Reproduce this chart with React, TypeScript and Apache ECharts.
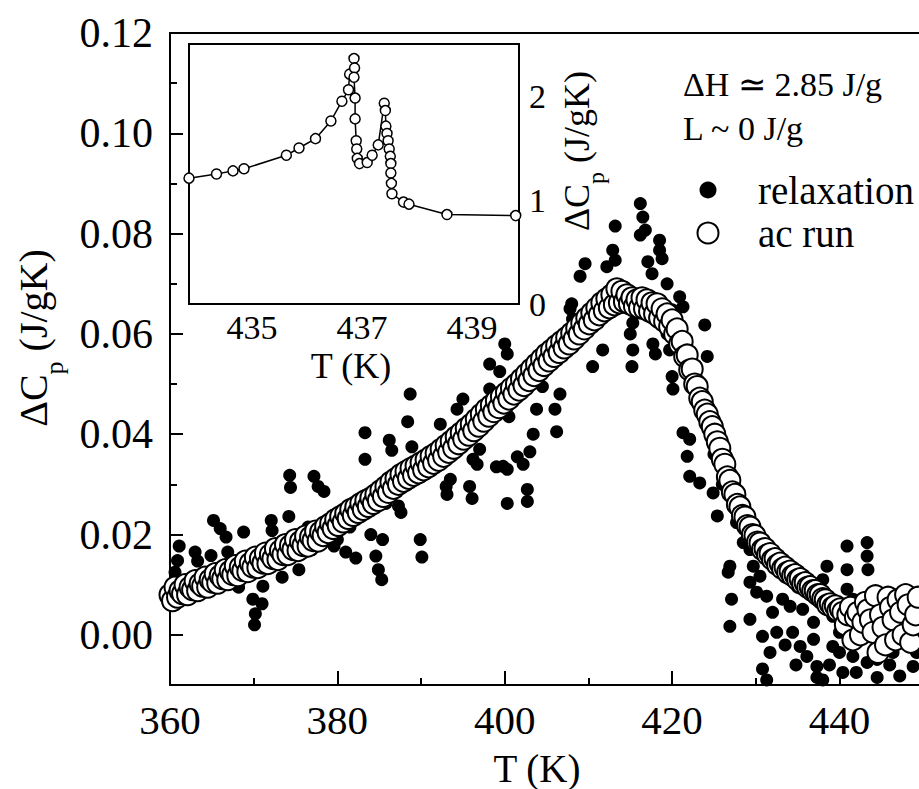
import React, { useEffect, useRef } from "react";
import * as echarts from "echarts";

const FF = "Liberation Serif";

const xLabels = [360, 380, 400, 420, 440];
const xMinor = [370, 390, 410, 430];
const yLabels = [0, 0.02, 0.04, 0.06, 0.08, 0.1, 0.12];
const yMinor = [0.01, 0.03, 0.05, 0.07, 0.09, 0.11];
const insetXLabels = [435, 437, 439];
const insetXTicks = [434.333, 435, 435.667, 436.333, 437, 437.667, 438.333, 439, 439.667];
const insetYLabels = [0, 1, 2];
const insetYTicks = [0.5, 1, 1.5, 2];

const relaxation: [number, number][] = [
  [360.3, 0.0085], [360.6, 0.0125], [360.9, 0.0148], [361.1, 0.0177], [362.2, 0.0105], [363.0, 0.0165], [363.3, 0.0147],
  [364.2, 0.0118], [364.9, 0.0158], [365.2, 0.0228], [366.0, 0.0212], [366.3, 0.0128], [366.7, 0.0195], [366.9, 0.0165],
  [367.8, 0.0142], [368.2, 0.0095], [368.8, 0.0205], [369.5, 0.015], [369.9, 0.0071], [370.1, 0.002], [370.2, 0.0042],
  [371.0, 0.0062], [371.1, 0.0097], [371.7, 0.015], [372.1, 0.0228], [372.2, 0.0208], [372.8, 0.017], [373.4, 0.0115],
  [374.2, 0.0236], [374.3, 0.0318], [374.4, 0.0294], [375.4, 0.013], [376.1, 0.0165], [376.5, 0.0215], [377.0, 0.017],
  [377.2, 0.0316], [377.7, 0.0296], [378.4, 0.0286], [378.6, 0.0225], [379.0, 0.0205], [379.6, 0.0177], [380.0, 0.019],
  [380.5, 0.024], [381.0, 0.0165], [381.5, 0.0215], [382.0, 0.0262], [382.2, 0.0153], [383.0, 0.024], [383.3, 0.0403],
  [383.3, 0.035], [383.5, 0.027], [384.0, 0.02], [384.6, 0.0157], [384.9, 0.013], [385.0, 0.0282], [385.3, 0.011],
  [385.4, 0.019], [385.8, 0.0262], [386.2, 0.0388], [386.5, 0.0368], [386.5, 0.03], [387.3, 0.0257], [387.6, 0.0244],
  [388.0, 0.0318], [388.4, 0.0425], [388.7, 0.048], [388.9, 0.0375], [389.5, 0.0336], [389.9, 0.019], [390.1, 0.0155],
  [391.0, 0.0345], [392.3, 0.042], [393.0, 0.0296],
  [393.1, 0.028], [393.5, 0.031], [394.3, 0.045], [394.5, 0.0375], [395.0, 0.047], [395.8, 0.0296], [396.0, 0.0395],
  [396.1, 0.0272], [396.2, 0.035], [396.7, 0.034], [397.0, 0.037], [397.5, 0.042], [398.2, 0.049], [398.2, 0.054],
  [399.0, 0.0335], [399.0, 0.0445], [399.4, 0.0525], [399.8, 0.0336], [400.0, 0.058], [400.3, 0.056], [400.3, 0.033],
  [400.3, 0.0262], [400.5, 0.0435], [401.0, 0.0475], [401.5, 0.0355], [402.2, 0.034], [402.5, 0.05], [402.7, 0.029],
  [402.7, 0.0266], [403.0, 0.0365], [403.4, 0.04], [403.8, 0.045], [404.0, 0.0525], [404.5, 0.0495], [405.5, 0.055],
  [406.0, 0.045], [406.2, 0.0405], [406.6, 0.048], [407.0, 0.0575], [407.8, 0.065], [408.0, 0.066], [408.1, 0.063],
  [408.5, 0.06], [409.0, 0.0715], [409.6, 0.074], [410.0, 0.0625], [410.5, 0.0535], [411.5, 0.0645], [411.7, 0.0568],
  [412.2, 0.0734], [412.9, 0.0767], [413.2, 0.0747], [413.2, 0.0815], [413.5, 0.066], [414.5, 0.0665], [415.0, 0.06],
  [415.2, 0.0535], [415.3, 0.0622], [415.3, 0.0568], [416.0, 0.066], [416.2, 0.0797], [416.2, 0.086], [416.5, 0.0833],
  [416.8, 0.0807], [417.1, 0.0744], [417.5, 0.065], [417.6, 0.072], [417.7, 0.058], [418.0, 0.056], [418.5, 0.0787],
  [418.5, 0.0767], [418.8, 0.075], [419.0, 0.063], [419.4, 0.07], [419.4, 0.06], [419.7, 0.0568], [420.0, 0.0648],
  [420.0, 0.0515], [420.1, 0.049], [420.5, 0.06], [420.9, 0.0674], [421.3, 0.0654], [421.3, 0.0403], [421.8, 0.0356],
  [422.0, 0.056], [422.1, 0.039], [422.1, 0.0316], [423.0, 0.05], [423.3, 0.0303], [423.9, 0.0618], [424.0, 0.046],
  [424.2, 0.0555], [424.9, 0.0283], [425.0, 0.036], [425.4, 0.0237],
  [426.0, 0.03], [426.7, 0.0125], [426.9, 0.0137], [426.9, 0.0017], [427.1, 0.0071], [427.5, 0.026], [427.7, 0.0224],
  [428.5, 0.0184], [428.8, 0.022], [429.3, 0.017], [429.3, 0.0105], [429.3, 0.0031], [429.7, 0.0137], [430.1, 0.0085],
  [430.5, 0.0117], [430.5, 0.017], [430.8, -0.0003], [430.8, -0.0068], [431.3, 0.0077], [431.3, -0.009], [431.7, -0.0035],
  [432.0, 0.0045], [432.0, 0.014], [432.5, 0.0005], [433.2, 0.0071], [433.5, 0.0115], [433.5, -0.002], [434.1, 0.0057],
  [434.4, 0.0005], [434.8, -0.006], [435.0, 0.0095], [435.3, -0.0023], [435.6, 0.0051], [436.1, -0.0043], [436.5, 0.008],
  [436.9, 0.0025], [436.9, -0.0009], [437.3, -0.0063], [437.3, -0.0085], [438.0, 0.011], [438.0, 0.006], [438.0, -0.009],
  [438.5, 0.0137], [438.8, -0.006], [439.2, 0.0037], [439.2, -0.0023], [439.5, 0.005], [440.0, 0.0005], [440.0, -0.0035],
  [440.4, -0.0075], [440.9, 0.0177], [440.9, 0.013], [440.9, 0.0091], [441.0, 0.003], [441.6, 0.0071], [441.6, -0.0043],
  [442.0, -0.0075], [442.4, 0.0005], [442.5, 0.002], [443.3, 0.0184], [443.3, 0.0157], [443.4, 0.013], [443.3, -0.0055],
  [444.0, 0.0071], [444.0, 0.001], [444.5, -0.0049], [444.5, -0.0085], [445.0, 0.004], [445.5, 0.0], [446.0, -0.006],
  [446.4, -0.0035], [447.0, -0.0005], [447.2, -0.0082], [447.8, 0.003], [448.5, 0.001], [448.8, -0.0063], [449.2, -0.0035],
];

// ac run, first pass
const acRunA: [number, number][] = [
  [360.0, 0.008], [360.6, 0.0095], [361.2, 0.0088], [361.8, 0.01], [362.4, 0.0095], [363.0, 0.0108], [363.6, 0.0102],
  [364.2, 0.0115], [364.8, 0.011], [365.4, 0.0122], [366.0, 0.0118], [366.6, 0.013], [367.2, 0.0127], [367.8, 0.0138],
  [368.4, 0.0135], [369.0, 0.0147], [369.6, 0.0143], [370.2, 0.0155], [370.8, 0.0152], [371.4, 0.0163], [372.0, 0.016],
  [372.6, 0.0172], [373.2, 0.0168], [373.8, 0.018], [374.4, 0.0178], [375.0, 0.019], [375.6, 0.0186], [376.2, 0.0197],
  [376.8, 0.0195], [377.4, 0.0207], [378.0, 0.0205], [378.6, 0.0216], [379.2, 0.0222], [379.8, 0.023], [380.4, 0.0236],
  [381.0, 0.0242], [381.6, 0.025], [382.2, 0.0255], [382.8, 0.0262], [383.4, 0.0268], [384.0, 0.0273], [384.6, 0.028],
  [385.2, 0.0288], [385.8, 0.0296], [386.4, 0.0305], [387.0, 0.0312], [387.6, 0.032], [388.2, 0.0326], [388.8, 0.0332],
  [389.4, 0.0337], [390.0, 0.0343], [390.6, 0.0349], [391.2, 0.0356], [391.8, 0.0362], [392.4, 0.037], [393.0, 0.0378],
  [393.6, 0.0386], [394.2, 0.0395], [394.8, 0.0403], [395.4, 0.0412], [396.0, 0.042], [396.6, 0.043], [397.2, 0.044],
  [397.8, 0.045], [398.4, 0.0458], [399.0, 0.0467], [399.6, 0.0475], [400.2, 0.0483], [400.8, 0.0492], [401.4, 0.05],
  [402.0, 0.051], [402.6, 0.052], [403.2, 0.053], [403.8, 0.054], [404.4, 0.055], [405.0, 0.056], [405.6, 0.0568],
  [406.2, 0.0577], [406.8, 0.0585], [407.4, 0.0593], [408.0, 0.0602], [408.6, 0.0612], [409.2, 0.0622], [409.8, 0.0632],
  [410.4, 0.0642], [411.0, 0.0652], [411.6, 0.0662], [412.2, 0.067], [412.8, 0.0678], [413.4, 0.069], [414.0, 0.0685],
  [414.6, 0.0678], [415.2, 0.0672], [415.8, 0.0668], [416.4, 0.0672], [417.0, 0.0668], [417.6, 0.0662], [418.2, 0.066],
  [418.8, 0.065], [419.4, 0.064], [420.0, 0.0628], [420.6, 0.061], [421.2, 0.0585], [421.8, 0.0558], [422.4, 0.053],
  [423.0, 0.0495], [423.6, 0.0465], [424.2, 0.044], [424.8, 0.0415], [425.4, 0.0385], [426.0, 0.035], [426.6, 0.0315],
  [427.2, 0.0285], [427.8, 0.026], [428.4, 0.0238], [429.0, 0.0218], [429.6, 0.02], [430.2, 0.0185], [430.8, 0.017],
  [431.4, 0.016], [432.0, 0.015], [432.6, 0.014], [433.2, 0.0132], [433.8, 0.0125], [434.4, 0.0118], [435.0, 0.011],
  [435.6, 0.0102], [436.2, 0.0095], [436.8, 0.0088], [437.4, 0.008], [438.0, 0.0072], [438.6, 0.006], [439.2, 0.0055],
  [439.8, 0.0048], [440.4, 0.0045], [441.0, 0.004], [441.6, -0.001], [442.2, 0.0045], [442.8, 0.0025], [443.4, 0.005],
  [444.0, 0.0005], [444.6, -0.0035], [445.2, 0.0015], [445.8, 0.0075], [446.4, 0.003], [447.0, 0.007], [447.6, 0.0],
  [448.2, 0.006], [448.8, 0.002], [449.4, 0.0075],
];

// ac run, second pass (slightly offset)
const acRunB: [number, number][] = [
  [360.3, 0.0068], [360.9, 0.0075], [361.5, 0.0082], [362.1, 0.008], [362.7, 0.009], [363.3, 0.0088], [363.9, 0.0097],
  [364.5, 0.0095], [365.1, 0.0105], [365.7, 0.0103], [366.3, 0.0112], [366.9, 0.011], [367.5, 0.012], [368.1, 0.0118],
  [368.7, 0.0128], [369.3, 0.0126], [369.9, 0.0135], [370.5, 0.0134], [371.1, 0.0143], [371.7, 0.0142], [372.3, 0.0152],
  [372.9, 0.015], [373.5, 0.016], [374.1, 0.016], [374.7, 0.017], [375.3, 0.0168], [375.9, 0.0178], [376.5, 0.0177],
  [377.1, 0.0188], [377.7, 0.0187], [378.3, 0.0198], [378.9, 0.0204], [379.5, 0.0212], [380.1, 0.0218], [380.7, 0.0225],
  [381.3, 0.0232], [381.9, 0.0238], [382.5, 0.0244], [383.1, 0.025], [383.7, 0.0256], [384.3, 0.0262], [384.9, 0.0268],
  [385.5, 0.0276], [386.1, 0.0284], [386.7, 0.0292], [387.3, 0.03], [387.9, 0.0306], [388.5, 0.0312], [389.1, 0.0318],
  [389.7, 0.0323], [390.3, 0.0329], [390.9, 0.0335], [391.5, 0.0342], [392.1, 0.0348], [392.7, 0.0356], [393.3, 0.0364],
  [393.9, 0.0372], [394.5, 0.0381], [395.1, 0.039], [395.7, 0.0398], [396.3, 0.0407], [396.9, 0.0416], [397.5, 0.0426],
  [398.1, 0.0436], [398.7, 0.0445], [399.3, 0.0453], [399.9, 0.0462], [400.5, 0.047], [401.1, 0.048], [401.7, 0.0488],
  [402.3, 0.0497], [402.9, 0.0507], [403.5, 0.0517], [404.1, 0.0527], [404.7, 0.0537], [405.3, 0.0546], [405.9, 0.0555],
  [406.5, 0.0563], [407.1, 0.0572], [407.7, 0.058], [408.3, 0.059], [408.9, 0.06], [409.5, 0.061], [410.1, 0.062],
  [410.7, 0.0628], [411.3, 0.0638], [411.9, 0.0646], [412.5, 0.0652], [413.1, 0.0658], [413.7, 0.0662], [414.3, 0.0664],
  [414.9, 0.066], [415.5, 0.0655], [416.1, 0.0652], [416.7, 0.065], [417.3, 0.0645], [417.9, 0.064], [418.5, 0.0632],
  [419.1, 0.0625], [419.7, 0.0615], [420.3, 0.06], [420.9, 0.058], [421.5, 0.0555], [422.1, 0.0528], [422.7, 0.05],
  [423.3, 0.0472], [423.9, 0.0448], [424.5, 0.0425], [425.1, 0.04], [425.7, 0.0372], [426.3, 0.034], [426.9, 0.0308],
  [427.5, 0.028], [428.1, 0.0255], [428.7, 0.0235], [429.3, 0.0215], [429.9, 0.0198], [430.5, 0.0183], [431.1, 0.0172],
  [431.7, 0.0162], [432.3, 0.0152], [432.9, 0.0143], [433.5, 0.0135], [434.1, 0.0127], [434.7, 0.012], [435.3, 0.0112],
  [435.9, 0.0104], [436.5, 0.0096], [437.1, 0.0088], [437.7, 0.008], [438.3, 0.007], [438.9, 0.0062], [439.5, 0.0058],
  [440.1, 0.0052], [440.7, 0.002], [441.3, 0.0055], [441.9, 0.0035], [442.5, 0.0], [443.1, 0.0065], [443.7, 0.003],
  [444.3, 0.0078], [444.9, 0.004], [445.5, -0.002], [446.1, 0.0055], [446.7, -0.001], [447.3, 0.0045], [447.9, 0.008],
  [448.5, -0.0015], [449.1, 0.004],
];

const insetRun: [number, number][] = [
  [434.0, 1.21], [434.5, 1.25], [434.8, 1.28], [435.0, 1.3], [435.77, 1.43], [436.0, 1.5], [436.3, 1.59], [436.58, 1.76],
  [436.78, 1.95], [436.9, 2.06], [436.92, 2.21], [437.0, 2.36], [437.01, 2.27], [437.0, 2.18], [437.02, 1.98],
  [437.02, 1.78], [437.04, 1.57], [437.05, 1.49], [437.06, 1.4], [437.1, 1.35], [437.24, 1.36], [437.33, 1.43],
  [437.44, 1.53], [437.55, 1.93], [437.57, 1.86], [437.58, 1.71], [437.6, 1.64], [437.62, 1.57], [437.64, 1.49],
  [437.66, 1.42], [437.67, 1.35], [437.67, 1.26], [437.68, 1.16], [437.69, 1.06], [437.9, 0.98], [438.0, 0.96],
  [438.69, 0.86], [439.94, 0.85],
];

const black = "#000";
const lbl = (size: number) => ({ fontFamily: FF, fontSize: size, color: black });
const hidden = { show: false };

export default function App() {
  const ref = useRef<HTMLDivElement>(null);
  useEffect(() => {
    if (!ref.current) return;
    const chart = echarts.init(ref.current, undefined, { renderer: "svg" });
    const acData: [number, number][] = [];
    const n = Math.max(acRunA.length, acRunB.length);
    for (let i = 0; i < n; i++) {
      if (acRunA[i]) acData.push(acRunA[i]);
      if (acRunB[i]) acData.push(acRunB[i]);
    }
    const option: any = {
      animation: false,
      backgroundColor: "#fff",
      textStyle: { fontFamily: FF },
      grid: [
        { left: 170, top: 33, right: 0, bottom: 104, show: false },
        { left: 189, top: 44, width: 330, height: 260, show: true, backgroundColor: "#fff", borderColor: black, borderWidth: 2, z: 5 },
      ],
      xAxis: [
        {
          gridIndex: 0, type: "value", min: 360, max: 449.5, position: "bottom",
          axisLine: { show: true, onZero: false, lineStyle: { color: black, width: 2 } },
          axisTick: { show: true, inside: true, length: 14, customValues: xLabels, lineStyle: { color: black, width: 2 } },
          axisLabel: { show: true, customValues: xLabels, margin: 14, ...lbl(41) },
          splitLine: hidden,
        },
        {
          gridIndex: 0, type: "value", min: 360, max: 449.5, position: "bottom",
          axisLine: { show: false, onZero: false },
          axisTick: { show: true, inside: true, length: 7, customValues: xMinor, lineStyle: { color: black, width: 2 } },
          axisLabel: hidden, splitLine: hidden,
        },
        {
          gridIndex: 0, type: "value", min: 360, max: 449.5, position: "top",
          axisLine: { show: true, onZero: false, lineStyle: { color: black, width: 2 } },
          axisTick: hidden, axisLabel: hidden, splitLine: hidden,
        },
        {
          gridIndex: 1, type: "value", min: 434, max: 440, position: "bottom",
          axisLine: { show: false, onZero: false },
          axisTick: { show: true, inside: true, length: 4, customValues: insetXTicks, lineStyle: { color: black, width: 1.5 } },
          axisLabel: { show: true, customValues: insetXLabels, margin: 6, padding: [0, 0, 0, 16], ...lbl(34) },
          splitLine: hidden,
        },
      ],
      yAxis: [
        {
          gridIndex: 0, type: "value", min: -0.01, max: 0.12, position: "left",
          axisLine: { show: true, onZero: false, lineStyle: { color: black, width: 2 } },
          axisTick: { show: true, inside: true, length: 13, customValues: yLabels, lineStyle: { color: black, width: 2 } },
          axisLabel: { show: true, customValues: yLabels, margin: 17, formatter: (v: number) => v.toFixed(2), ...lbl(42) },
          splitLine: hidden,
        },
        {
          gridIndex: 0, type: "value", min: -0.01, max: 0.12, position: "left",
          axisLine: { show: false, onZero: false },
          axisTick: { show: true, inside: true, length: 7, customValues: yMinor, lineStyle: { color: black, width: 2 } },
          axisLabel: hidden, splitLine: hidden,
        },
        {
          gridIndex: 1, type: "value", min: 0, max: 2.5, position: "right",
          axisLine: { show: false, onZero: false },
          axisTick: { show: true, inside: true, length: 4, customValues: insetYTicks, lineStyle: { color: black, width: 1.5 } },
          axisLabel: { show: true, customValues: insetYLabels, margin: 10, ...lbl(34) },
          splitLine: hidden,
        },
      ],
      series: [
        {
          name: "relaxation", type: "scatter", xAxisIndex: 0, yAxisIndex: 0, data: relaxation,
          symbol: "circle", symbolSize: 13, itemStyle: { color: black, opacity: 1 }, z: 2, clip: true,
        },
        {
          name: "ac run", type: "scatter", xAxisIndex: 0, yAxisIndex: 0, data: acData,
          symbol: "circle", symbolSize: 21, itemStyle: { color: "#fff", borderColor: black, borderWidth: 2, opacity: 1 }, z: 3, clip: true,
        },
        {
          name: "inset", type: "line", xAxisIndex: 3, yAxisIndex: 2, data: insetRun,
          symbol: "circle", symbolSize: 10, showAllSymbol: true, clip: true,
          lineStyle: { color: black, width: 1.5 },
          itemStyle: { color: "#fff", borderColor: black, borderWidth: 1.5, opacity: 1 }, z: 6,
        },
      ],
      graphic: [
        {
          type: "text", x: 33, y: 338, rotation: Math.PI / 2, z: 10,
          style: {
            text: "{a|ΔC}{b|p}{a| (J/gK)}", align: "center", verticalAlign: "middle",
            rich: {
              a: { fontFamily: FF, fontSize: 40, lineHeight: 44, fill: black },
              b: { fontFamily: FF, fontSize: 26, height: 2, verticalAlign: "bottom", fill: black },
            },
          },
        },
        {
          type: "text", x: 537, y: 768, z: 10,
          style: { text: "T (K)", fontFamily: FF, fontSize: 39, fill: black, align: "center", verticalAlign: "middle" },
        },
        {
          type: "text", x: 577, y: 151, rotation: Math.PI / 2, z: 10,
          style: {
            text: "{a|ΔC}{b|p}{a| (J/gK)}", align: "center", verticalAlign: "middle",
            rich: {
              a: { fontFamily: FF, fontSize: 36, lineHeight: 40, fill: black },
              b: { fontFamily: FF, fontSize: 24, height: 2, verticalAlign: "bottom", fill: black },
            },
          },
        },
        {
          type: "text", x: 351, y: 366, z: 10,
          style: { text: "T (K)", fontFamily: FF, fontSize: 36, fill: black, align: "center", verticalAlign: "middle" },
        },
        {
          type: "text", x: 683, y: 84, z: 10,
          style: { text: "ΔH ≃ 2.85 J/g", fontFamily: FF, fontSize: 34, fill: black, align: "left", verticalAlign: "middle" },
        },
        {
          type: "text", x: 683, y: 128, z: 10,
          style: { text: "L ~ 0 J/g", fontFamily: FF, fontSize: 34, fill: black, align: "left", verticalAlign: "middle" },
        },
        { type: "circle", z: 10, shape: { cx: 708, cy: 190, r: 8.5 }, style: { fill: black } },
        { type: "circle", z: 10, shape: { cx: 708, cy: 233, r: 10.5 }, style: { fill: "#fff", stroke: black, lineWidth: 2 } },
        {
          type: "text", x: 758, y: 190, z: 10,
          style: { text: "relaxation", fontFamily: FF, fontSize: 39, fill: black, align: "left", verticalAlign: "middle" },
        },
        {
          type: "text", x: 758, y: 233, z: 10,
          style: { text: "ac run", fontFamily: FF, fontSize: 39, fill: black, align: "left", verticalAlign: "middle" },
        },
      ],
    };
    chart.setOption(option);
    return () => chart.dispose();
  }, []);
  return (
    <div
      ref={ref}
      style={{ position: "fixed", left: 0, top: 0, width: 919, height: 789, background: "#fff" }}
    />
  );
}
